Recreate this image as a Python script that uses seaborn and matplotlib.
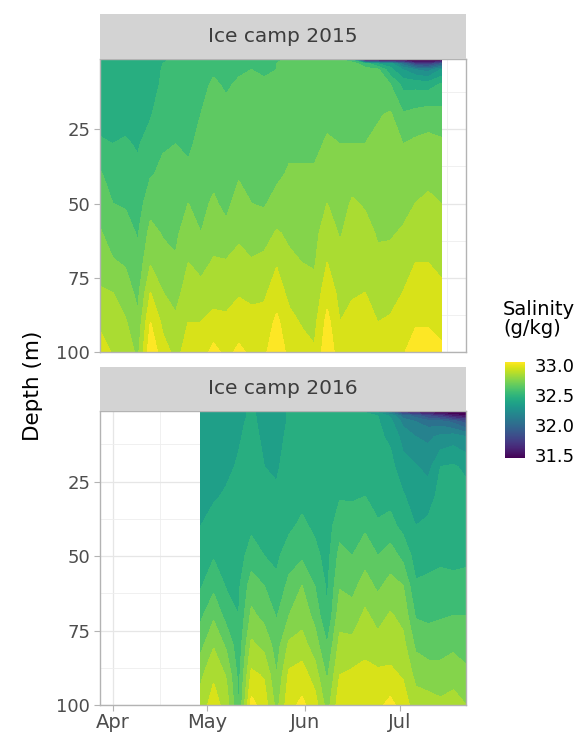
import numpy as np
import pandas as pd
import matplotlib
matplotlib.use("Agg")
import matplotlib.pyplot as plt
import matplotlib.dates as mdates
from matplotlib.colors import Normalize
from matplotlib.cm import ScalarMappable
from matplotlib.ticker import MultipleLocator
import seaborn as sns

# Depth levels of the profiles (m)
depths = [1, 2, 3, 5, 10, 20, 30, 40, 50, 60, 70, 80, 90, 100]

# Ice camp 2015: one salinity profile (g/kg) per date, top to bottom
dates_2015 = ["2015-03-28", "2015-04-01", "2015-04-05", "2015-04-09", "2015-04-13",
              "2015-04-17", "2015-04-21", "2015-04-25", "2015-04-29", "2015-05-03",
              "2015-05-07", "2015-05-11", "2015-05-15", "2015-05-19", "2015-05-23",
              "2015-05-27", "2015-05-31", "2015-06-04", "2015-06-08", "2015-06-12",
              "2015-06-16", "2015-06-20", "2015-06-24", "2015-06-28", "2015-07-02",
              "2015-07-06", "2015-07-10", "2015-07-14"]
sal_2015 = [
    [32.42, 32.42, 32.42, 32.43, 32.44, 32.47, 32.51, 32.61, 32.66, 32.71, 32.76, 32.81, 32.88, 32.95],
    [32.42, 32.42, 32.42, 32.43, 32.44, 32.46, 32.50, 32.55, 32.60, 32.65, 32.71, 32.80, 32.85, 32.89],
    [32.43, 32.43, 32.43, 32.43, 32.44, 32.47, 32.51, 32.55, 32.59, 32.64, 32.69, 32.75, 32.81, 32.87],
    [32.42, 32.42, 32.42, 32.43, 32.44, 32.46, 32.49, 32.52, 32.55, 32.59, 32.63, 32.67, 32.72, 32.77],
    [32.43, 32.43, 32.43, 32.44, 32.45, 32.49, 32.54, 32.59, 32.66, 32.73, 32.79, 32.90, 33.00, 33.07],
    [32.49, 32.49, 32.50, 32.51, 32.52, 32.56, 32.59, 32.62, 32.65, 32.69, 32.74, 32.80, 32.87, 32.94],
    [32.52, 32.52, 32.53, 32.53, 32.54, 32.57, 32.60, 32.63, 32.65, 32.68, 32.71, 32.76, 32.82, 32.87],
    [32.53, 32.53, 32.53, 32.54, 32.55, 32.56, 32.58, 32.62, 32.70, 32.75, 32.80, 32.85, 32.90, 32.94],
    [32.55, 32.55, 32.56, 32.57, 32.58, 32.60, 32.63, 32.65, 32.68, 32.70, 32.77, 32.83, 32.90, 32.95],
    [32.58, 32.58, 32.59, 32.59, 32.61, 32.63, 32.65, 32.68, 32.71, 32.76, 32.81, 32.86, 32.93, 33.03],
    [32.57, 32.57, 32.58, 32.58, 32.59, 32.62, 32.64, 32.66, 32.68, 32.72, 32.81, 32.86, 32.92, 32.97],
    [32.58, 32.58, 32.59, 32.59, 32.61, 32.63, 32.66, 32.69, 32.73, 32.78, 32.83, 32.89, 32.95, 33.02],
    [32.58, 32.58, 32.59, 32.60, 32.61, 32.63, 32.65, 32.67, 32.70, 32.75, 32.81, 32.87, 32.94, 32.98],
    [32.58, 32.58, 32.59, 32.59, 32.61, 32.63, 32.65, 32.67, 32.69, 32.75, 32.83, 32.88, 32.94, 32.98],
    [32.59, 32.59, 32.60, 32.60, 32.62, 32.64, 32.66, 32.68, 32.73, 32.81, 32.89, 32.95, 33.02, 33.06],
    [32.62, 32.62, 32.62, 32.63, 32.64, 32.65, 32.68, 32.71, 32.74, 32.78, 32.82, 32.87, 32.93, 32.97],
    [32.63, 32.63, 32.63, 32.64, 32.65, 32.66, 32.68, 32.71, 32.74, 32.77, 32.80, 32.84, 32.89, 32.94],
    [32.63, 32.63, 32.63, 32.64, 32.65, 32.66, 32.68, 32.71, 32.74, 32.77, 32.79, 32.83, 32.87, 32.91],
    [32.64, 32.64, 32.64, 32.65, 32.66, 32.68, 32.71, 32.76, 32.80, 32.85, 32.90, 32.96, 33.03, 33.07],
    [32.64, 32.64, 32.64, 32.65, 32.66, 32.68, 32.70, 32.73, 32.76, 32.79, 32.83, 32.87, 32.90, 32.94],
    [31.90, 32.55, 32.64, 32.65, 32.66, 32.68, 32.70, 32.76, 32.81, 32.84, 32.87, 32.89, 32.93, 32.97],
    [31.42, 31.55, 32.55, 32.63, 32.65, 32.67, 32.70, 32.74, 32.79, 32.83, 32.86, 32.90, 32.93, 32.96],
    [31.40, 31.50, 32.40, 32.62, 32.66, 32.69, 32.72, 32.75, 32.77, 32.79, 32.82, 32.86, 32.90, 32.94],
    [31.40, 31.48, 32.35, 32.43, 32.60, 32.71, 32.73, 32.75, 32.77, 32.79, 32.83, 32.87, 32.91, 32.95],
    [31.40, 31.46, 32.05, 32.30, 32.47, 32.61, 32.70, 32.74, 32.77, 32.81, 32.85, 32.90, 32.95, 32.99],
    [31.35, 31.43, 31.75, 32.20, 32.47, 32.63, 32.72, 32.76, 32.80, 32.85, 32.90, 32.94, 32.99, 33.04],
    [31.35, 31.43, 31.70, 32.15, 32.46, 32.65, 32.73, 32.77, 32.82, 32.86, 32.90, 32.94, 32.99, 33.04],
    [31.38, 31.45, 31.90, 32.30, 32.51, 32.63, 32.72, 32.76, 32.80, 32.84, 32.88, 32.92, 32.97, 33.02],
]

# Ice camp 2016
dates_2016 = ["2016-04-29", "2016-05-03", "2016-05-07", "2016-05-11", "2016-05-15",
              "2016-05-19", "2016-05-23", "2016-05-27", "2016-05-31", "2016-06-04",
              "2016-06-08", "2016-06-12", "2016-06-16", "2016-06-20", "2016-06-24",
              "2016-06-28", "2016-07-02", "2016-07-06", "2016-07-10", "2016-07-14",
              "2016-07-18", "2016-07-22"]
sal_2016 = [
    [32.33, 32.33, 32.33, 32.33, 32.34, 32.36, 32.38, 32.40, 32.44, 32.49, 32.58, 32.67, 32.78, 32.84],
    [32.33, 32.33, 32.33, 32.34, 32.35, 32.37, 32.39, 32.43, 32.49, 32.57, 32.68, 32.79, 32.88, 32.95],
    [32.33, 32.33, 32.33, 32.34, 32.36, 32.38, 32.41, 32.43, 32.46, 32.49, 32.56, 32.68, 32.79, 32.85],
    [32.36, 32.36, 32.36, 32.38, 32.39, 32.41, 32.42, 32.44, 32.46, 32.48, 32.50, 32.53, 32.56, 32.59],
    [32.42, 32.42, 32.42, 32.42, 32.43, 32.44, 32.46, 32.48, 32.54, 32.65, 32.72, 32.82, 32.92, 33.03],
    [32.36, 32.36, 32.36, 32.37, 32.38, 32.40, 32.43, 32.47, 32.50, 32.60, 32.67, 32.77, 32.89, 32.95],
    [32.35, 32.35, 32.35, 32.36, 32.37, 32.39, 32.41, 32.45, 32.48, 32.52, 32.59, 32.65, 32.70, 32.76],
    [32.41, 32.41, 32.41, 32.41, 32.42, 32.43, 32.45, 32.48, 32.55, 32.63, 32.70, 32.82, 32.92, 32.97],
    [32.43, 32.43, 32.43, 32.43, 32.44, 32.45, 32.47, 32.52, 32.58, 32.70, 32.76, 32.84, 32.95, 33.02],
    [32.42, 32.42, 32.42, 32.42, 32.43, 32.44, 32.46, 32.48, 32.53, 32.60, 32.67, 32.75, 32.85, 32.95],
    [32.41, 32.41, 32.41, 32.41, 32.42, 32.43, 32.44, 32.45, 32.46, 32.48, 32.50, 32.60, 32.68, 32.75],
    [32.43, 32.43, 32.43, 32.43, 32.44, 32.46, 32.49, 32.56, 32.63, 32.69, 32.76, 32.83, 32.90, 32.96],
    [32.41, 32.42, 32.42, 32.42, 32.43, 32.45, 32.49, 32.54, 32.60, 32.67, 32.74, 32.83, 32.92, 32.97],
    [31.80, 32.40, 32.42, 32.42, 32.43, 32.46, 32.50, 32.58, 32.66, 32.74, 32.82, 32.87, 32.93, 32.97],
    [31.60, 32.30, 32.40, 32.41, 32.42, 32.44, 32.47, 32.51, 32.60, 32.68, 32.76, 32.84, 32.92, 32.97],
    [31.45, 32.10, 32.28, 32.33, 32.38, 32.43, 32.47, 32.53, 32.65, 32.73, 32.81, 32.86, 32.92, 33.03],
    [31.40, 31.70, 32.05, 32.17, 32.26, 32.34, 32.41, 32.47, 32.57, 32.70, 32.77, 32.83, 32.89, 32.95],
    [31.40, 31.60, 31.95, 32.10, 32.20, 32.31, 32.35, 32.40, 32.46, 32.51, 32.59, 32.68, 32.77, 32.85],
    [31.38, 31.50, 31.80, 32.05, 32.18, 32.26, 32.36, 32.42, 32.47, 32.52, 32.58, 32.65, 32.75, 32.84],
    [31.36, 31.45, 31.70, 32.05, 32.22, 32.40, 32.43, 32.45, 32.48, 32.53, 32.59, 32.66, 32.74, 32.82],
    [31.34, 31.42, 31.55, 31.97, 32.25, 32.41, 32.43, 32.45, 32.48, 32.52, 32.60, 32.68, 32.76, 32.84],
    [31.32, 31.40, 31.50, 31.85, 32.20, 32.38, 32.43, 32.45, 32.48, 32.53, 32.60, 32.66, 32.72, 32.80],
]

camps = ["Ice camp 2015", "Ice camp 2016"]


def to_axis_dates(dates):
    # put both seasons on one calendar so the panels share the month axis
    return [mdates.date2num(pd.Timestamp(d).replace(year=2015)) for d in dates]


def plot_salinity():
    sns.set_theme(style="white")
    plt.rcParams['font.family'] = ['DejaVu Sans']

    cmap = sns.color_palette("viridis", as_cmap=True)
    norm = Normalize(31.45, 33.05)
    levels = np.round(np.arange(31.2, 33.15, 0.1), 2)

    fig = plt.figure(figsize=(5.82, 7.34), dpi=100)

    # [panel bottom, panel height, strip bottom, strip height]
    boxes = [(0.5204, 0.3992, 0.9196, 0.0613), (0.0395, 0.4005, 0.4401, 0.0599)]
    left, width = 100 / 582, 366 / 582

    xs = [to_axis_dates(dates_2015), to_axis_dates(dates_2016)]
    zs = [np.array(sal_2015).T, np.array(sal_2016).T]
    xmin = min(min(x) for x in xs)
    xmax = max(max(x) for x in xs)

    for i, (title, x, z) in enumerate(zip(camps, xs, zs)):
        pb, ph, sb, sh = boxes[i]
        ax = fig.add_axes([left, pb, width, ph])
        ax.set_facecolor('white')
        ax.set_axisbelow(True)
        cs = ax.contourf(x, depths, z, levels=levels, cmap=cmap, norm=norm, zorder=2)
        cs.set_edgecolor('face')
        cs.set_linewidth(0.4)

        ax.set_xlim(xmin, xmax)
        ax.set_ylim(100, 1.35)
        ax.yaxis.set_major_locator(MultipleLocator(25))
        ax.yaxis.set_minor_locator(MultipleLocator(12.5))
        ax.set_yticks([25, 50, 75, 100])
        ax.xaxis.set_major_locator(mdates.MonthLocator())
        ax.xaxis.set_minor_locator(mdates.MonthLocator(bymonthday=16))
        ax.xaxis.set_major_formatter(mdates.DateFormatter('%b'))
        ax.grid(which='major', color='#e6e6e6', linewidth=0.9)
        ax.grid(which='minor', color='#eeeeee', linewidth=0.6)
        for sp in ax.spines.values():
            sp.set_color('#b3b3b3')
            sp.set_linewidth(1.0)
        ax.tick_params(axis='y', which='major', left=True, length=4, width=0.8,
                       color='#b3b3b3', labelsize=13, labelcolor='#4d4d4d', pad=3)
        ax.tick_params(axis='y', which='minor', left=False)
        ax.tick_params(axis='x', which='minor', bottom=False)
        if i == 0:
            ax.tick_params(axis='x', which='major', bottom=False, labelbottom=False)
        else:
            ax.tick_params(axis='x', which='major', bottom=True, length=4, width=0.8,
                           color='#b3b3b3', labelsize=14, labelcolor='#4d4d4d', pad=2)

        # facet strip
        sax = fig.add_axes([left, sb, width, sh])
        sax.set_facecolor('#d3d3d3')
        sax.set_xticks([])
        sax.set_yticks([])
        for sp in sax.spines.values():
            sp.set_visible(False)
        sax.text(0.5, 0.5, title, ha='center', va='center', color='#3d3d3d',
                 fontsize=14.5, transform=sax.transAxes)

    fig.text(33 / 582, 1 - 386 / 734, 'Depth (m)', rotation=90, ha='center',
             va='center', fontsize=15.5, color='black')

    # continuous colour bar legend
    cax = fig.add_axes([505 / 582, 1 - 458 / 734, 20 / 582, 96 / 734])
    cb = fig.colorbar(ScalarMappable(norm=norm, cmap=cmap), cax=cax)
    cb.outline.set_visible(False)
    cb.set_ticks([31.5, 32.0, 32.5, 33.0])
    cb.set_ticklabels(['31.5', '32.0', '32.5', '33.0'])
    cax.tick_params(which='both', direction='in', color='white', length=4, width=0.8,
                    left=True, right=True, labelsize=13, labelcolor='black', pad=7)
    cax.tick_params(which='minor', left=False, right=False)
    fig.text(503 / 582, 1 - 300 / 734, 'Salinity\n(g/kg)', ha='left', va='top',
             fontsize=14, linespacing=1.0, color='black')

    fig.savefig('out.png', dpi=100)
    plt.close(fig)


if __name__ == "__main__":
    plot_salinity()
